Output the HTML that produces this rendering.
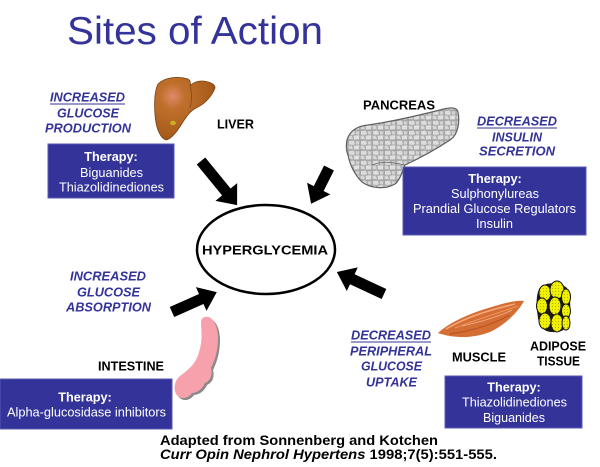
<!DOCTYPE html>
<html>
<head>
<meta charset="utf-8">
<style>
  html,body{margin:0;padding:0;background:#fff;}
  svg{display:block;}
  .blue{font-family:"Liberation Sans",Arial,sans-serif;font-weight:bold;font-style:italic;font-size:12.7px;fill:#333399;}
  .blk{font-family:"Liberation Sans",Arial,sans-serif;font-weight:bold;font-size:12.8px;fill:#000;}
  .th{font-family:"Liberation Sans",Arial,sans-serif;font-size:12.7px;fill:#fff;}
  .thb{font-family:"Liberation Sans",Arial,sans-serif;font-weight:bold;font-size:12.7px;fill:#fff;}
  .cit{font-family:"Liberation Sans",Arial,sans-serif;font-weight:bold;font-size:13.5px;fill:#000;}
</style>
</head>
<body>
<svg width="600" height="467" viewBox="0 0 600 467" xmlns="http://www.w3.org/2000/svg">
  <defs>
    <radialGradient id="livg" cx="0.3" cy="0.3" r="0.8">
      <stop offset="0" stop-color="#e08a6a"/>
      <stop offset="0.25" stop-color="#c0702c"/>
      <stop offset="0.8" stop-color="#a85d1c"/>
      <stop offset="1" stop-color="#8a4a12"/>
    </radialGradient>
    <pattern id="cells" width="12" height="10" patternUnits="userSpaceOnUse">
      <rect width="12" height="10" fill="#a6a6a6"/>
      <path d="M1,1 L6,0.6 L7,4 L5,5 L1,4.5 Z" fill="#dcdcdc"/>
      <path d="M7.6,1 L11.5,1.5 L11,4.5 L8,4.6 Z" fill="#d2d2d2"/>
      <path d="M0.6,5.6 L4,5.6 L5,9.4 L0.6,9 Z" fill="#d6d6d6"/>
      <path d="M5.6,5.6 L11.4,5.2 L11,9.4 L6,9.5 Z" fill="#e0e0e0"/>
    </pattern>
    <pattern id="dots" width="3" height="3" patternUnits="userSpaceOnUse">
      <rect width="3" height="3" fill="#f0f000"/>
      <rect width="1" height="1" fill="#b0b000"/>
    </pattern>
  </defs>

  <!-- Title -->
  <text x="67" y="44" font-family="Liberation Sans, Arial, sans-serif" font-size="39" fill="#333399" textLength="256" lengthAdjust="spacingAndGlyphs">Sites of Action</text>

  <!-- Liver label block -->
  <text class="blue" x="50" y="101.5" textLength="75" lengthAdjust="spacingAndGlyphs">INCREASED</text>
  <line x1="50" y1="104" x2="125" y2="104" stroke="#333399" stroke-width="1"/>
  <text class="blue" x="57" y="117.5" textLength="62" lengthAdjust="spacingAndGlyphs">GLUCOSE</text>
  <text class="blue" x="45" y="132.5" textLength="86" lengthAdjust="spacingAndGlyphs">PRODUCTION</text>

  <!-- Liver -->
  <path d="M158,84 C165,77 178,76 188,79 C190,80 191,83 190,86 C194,81 202,80 208,82 C212,83 215,85 215,88 C212,96 205,104 196,108 C190,111 186,117 181,125 C176,133 171,139 166,140 C160,138 156,128 155,115 C154,101 155,90 158,84 Z" fill="url(#livg)" stroke="#7a4010" stroke-width="0.8"/>
  <path d="M190,86 C192,92 192,100 190,108" stroke="#8a4a15" stroke-width="0.8" fill="none"/>
  <ellipse cx="173" cy="123" rx="3" ry="2.2" fill="#c8b020"/>
  <text class="blk" x="217" y="128.5" textLength="37" lengthAdjust="spacingAndGlyphs">LIVER</text>

  <!-- Therapy box 1 -->
  <rect x="48" y="144" width="126" height="54" fill="#333399" stroke="#5a5ab4" stroke-width="1"/>
  <text class="thb" x="111" y="161" text-anchor="middle">Therapy:</text>
  <text class="th" x="111.5" y="177" text-anchor="middle" textLength="63" lengthAdjust="spacingAndGlyphs">Biguanides</text>
  <text class="th" x="111.5" y="191.7" text-anchor="middle" textLength="105" lengthAdjust="spacingAndGlyphs">Thiazolidinediones</text>

  <!-- Pancreas -->
  <text class="blk" x="363" y="109.5" textLength="72" lengthAdjust="spacingAndGlyphs">PANCREAS</text>
  <path d="M347,140 C350,130 358,126 368,125 C390,122 420,115 440,110 C450,107 457,107 458,112 C460,122 458,135 450,140 C435,150 420,158 405,165 C402,172 400,180 395,184 C385,190 370,188 362,182 C355,175 350,165 348,155 C346,150 346,145 347,140 Z" fill="url(#cells)" stroke="#5e5e5e" stroke-width="1.2"/>
  <path d="M372,165 C385,160 395,163 405,165" stroke="#666" stroke-width="0.8" fill="none"/>

  <text class="blue" x="477" y="125.5" textLength="80" lengthAdjust="spacingAndGlyphs">DECREASED</text>
  <line x1="477" y1="128" x2="557" y2="128" stroke="#333399" stroke-width="1"/>
  <text class="blue" x="492" y="141.5" textLength="50" lengthAdjust="spacingAndGlyphs">INSULIN</text>
  <text class="blue" x="479" y="155.5" textLength="76" lengthAdjust="spacingAndGlyphs">SECRETION</text>

  <!-- Therapy box 2 -->
  <rect x="403" y="167" width="183" height="68" fill="#333399" stroke="#5a5ab4" stroke-width="1"/>
  <text class="thb" x="495" y="183" text-anchor="middle">Therapy:</text>
  <text class="th" x="495" y="198" text-anchor="middle" textLength="88" lengthAdjust="spacingAndGlyphs">Sulphonylureas</text>
  <text class="th" x="494.5" y="213" text-anchor="middle" textLength="163" lengthAdjust="spacingAndGlyphs">Prandial Glucose Regulators</text>
  <text class="th" x="494.5" y="228" text-anchor="middle" textLength="37" lengthAdjust="spacingAndGlyphs">Insulin</text>

  <!-- Ellipse -->
  <ellipse cx="266" cy="249.5" rx="69" ry="44.5" fill="#fff" stroke="#000" stroke-width="2.5"/>
  <text x="202" y="254.5" font-family="Liberation Sans, Arial, sans-serif" font-weight="bold" font-size="13" textLength="126" lengthAdjust="spacingAndGlyphs">HYPERGLYCEMIA</text>

  <!-- Arrows -->
  <g fill="#000">
    <polygon transform="translate(201,161) rotate(50.7)" points="0,-5.5 40,-5.5 40,-14 57,0 40,14 40,5.5 0,5.5"/>
    <polygon transform="translate(329,168) rotate(116.6)" points="0,-5.5 23,-5.5 23,-13 40,0 23,13 23,5.5 0,5.5"/>
    <polygon transform="translate(172,312) rotate(-24)" points="0,-5.5 32,-5.5 32,-13 49,0 32,13 32,5.5 0,5.5"/>
    <polygon transform="translate(384,294) rotate(205)" points="0,-5.5 35,-5.5 35,-13 52,0 35,13 35,5.5 0,5.5"/>
  </g>

  <!-- Absorption block -->
  <text class="blue" x="70" y="280.5" textLength="76" lengthAdjust="spacingAndGlyphs">INCREASED</text>
  <text class="blue" x="77" y="296.5" textLength="63" lengthAdjust="spacingAndGlyphs">GLUCOSE</text>
  <text class="blue" x="66" y="311.5" textLength="85" lengthAdjust="spacingAndGlyphs">ABSORPTION</text>

  <!-- Intestine -->
  <path transform="translate(2,2)" d="M205,317 C212,315 218,325 218,338 C218,352 214,362 211,368 C213,375 210,381 205,383 C202,390 196,393 192,393 C188,399 180,400 176,394 C173,388 175,380 180,376 C188,370 196,364 199,352 C203,340 201,330 201,322 C201,319 203,317 205,317 Z" fill="#8a8a8a"/>
  <path d="M205,317 C212,315 218,325 218,338 C218,352 214,362 211,368 C213,375 210,381 205,383 C202,390 196,393 192,393 C188,399 180,400 176,394 C173,388 175,380 180,376 C188,370 196,364 199,352 C203,340 201,330 201,322 C201,319 203,317 205,317 Z" fill="#f7a1ad"/>

  <text class="blk" x="98" y="370.5" textLength="66" lengthAdjust="spacingAndGlyphs">INTESTINE</text>

  <!-- Therapy box 3 -->
  <rect x="0" y="379" width="172" height="50" fill="#333399" stroke="#5a5ab4" stroke-width="1"/>
  <text class="thb" x="85" y="401.7" text-anchor="middle">Therapy:</text>
  <text class="th" x="86.5" y="416.7" text-anchor="middle" textLength="159" lengthAdjust="spacingAndGlyphs">Alpha-glucosidase inhibitors</text>

  <!-- Peripheral block -->
  <text class="blue" x="351" y="339.5" textLength="80" lengthAdjust="spacingAndGlyphs">DECREASED</text>
  <line x1="351" y1="342" x2="431" y2="342" stroke="#333399" stroke-width="1"/>
  <text class="blue" x="350" y="355.5" textLength="82" lengthAdjust="spacingAndGlyphs">PERIPHERAL</text>
  <text class="blue" x="361" y="370.5" textLength="61" lengthAdjust="spacingAndGlyphs">GLUCOSE</text>
  <text class="blue" x="366" y="386.5" textLength="51" lengthAdjust="spacingAndGlyphs">UPTAKE</text>

  <!-- Muscle -->
  <path d="M438,333 C450,322 470,313 495,306 C508,302 518,300 524,301 C518,312 505,325 490,332 C475,338 455,339 438,333 Z" fill="#d46e34"/>
  <path d="M446,329 C465,318 485,311 515,304" stroke="#f4a878" stroke-width="1.5" fill="none"/>
  <path d="M455,328 C475,320 495,314 518,306" stroke="#ec9460" stroke-width="1" fill="none"/>
  <path d="M462,326 C480,322 500,316 512,310" stroke="#f6b088" stroke-width="0.8" fill="none"/>
  <path d="M450,334 C470,331 490,326 510,315" stroke="#b8521e" stroke-width="1" fill="none"/>

  <text class="blk" x="452" y="361.5" textLength="54" lengthAdjust="spacingAndGlyphs">MUSCLE</text>

  <!-- Adipose -->
  <path d="M539,289 C543,282 559,281 567,288 C571,296 571,312 569,321 C567,330 560,333 552,332 C545,332 539,327 538,318 C536,305 536,296 539,289 Z" fill="#1a1a1a"/>
  <g stroke="#111" stroke-width="1" fill="url(#dots)">
    <ellipse cx="545" cy="293" rx="6" ry="8"/>
    <ellipse cx="557" cy="290" rx="7" ry="9"/>
    <ellipse cx="566" cy="297" rx="4.5" ry="8"/>
    <ellipse cx="542" cy="306" rx="5.5" ry="8"/>
    <ellipse cx="555" cy="306" rx="6" ry="9"/>
    <ellipse cx="566" cy="311" rx="4.5" ry="7"/>
    <ellipse cx="545" cy="321" rx="6" ry="8"/>
    <ellipse cx="557" cy="323" rx="6" ry="9"/>
    <ellipse cx="566" cy="323" rx="4" ry="7"/>
  </g>
  <text class="blk" x="530" y="350.5" textLength="56" lengthAdjust="spacingAndGlyphs">ADIPOSE</text>
  <text class="blk" x="537" y="365.5" textLength="43" lengthAdjust="spacingAndGlyphs">TISSUE</text>

  <!-- Therapy box 4 -->
  <rect x="445" y="376" width="137" height="52" fill="#333399" stroke="#5a5ab4" stroke-width="1"/>
  <text class="thb" x="514" y="391.7" text-anchor="middle">Therapy:</text>
  <text class="th" x="514.5" y="406.7" text-anchor="middle" textLength="105" lengthAdjust="spacingAndGlyphs">Thiazolidinediones</text>
  <text class="th" x="514" y="422" text-anchor="middle" textLength="62" lengthAdjust="spacingAndGlyphs">Biguanides</text>

  <!-- Citation -->
  <text class="cit" x="160" y="445" textLength="278" lengthAdjust="spacingAndGlyphs">Adapted from Sonnenberg and Kotchen</text>
  <text class="cit" x="160" y="459" textLength="337" lengthAdjust="spacingAndGlyphs"><tspan font-style="italic">Curr Opin Nephrol Hypertens</tspan> 1998;7(5):551-555.</text>
</svg>
</body>
</html>
